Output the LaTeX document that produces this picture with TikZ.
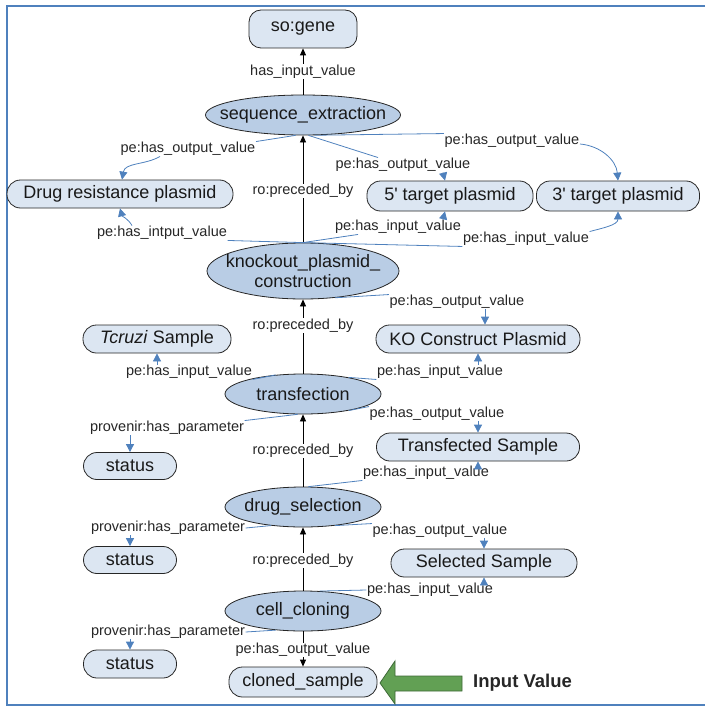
\documentclass[tikz,border=0pt]{standalone}
\usepackage{fontspec}
\setmainfont{Liberation Sans}
\usetikzlibrary{shapes.geometric,arrows.meta}

\definecolor{edgeblue}{RGB}{79,129,189}
\definecolor{framebl}{RGB}{79,129,189}
\definecolor{procfill}{RGB}{185,205,229}
\definecolor{artfill}{RGB}{220,230,242}
\definecolor{arrowgreen}{RGB}{98,160,84}
\definecolor{arrowdark}{RGB}{62,105,55}

\newcommand\nodefont{\fontsize{18}{20}\selectfont}
\newcommand\labfont{\fontsize{14.5}{16}\selectfont}

\tikzset{
  proc/.style={ellipse, draw=black!85, line width=0.8pt, fill=procfill, inner sep=0pt},
  proctext/.style={font=\nodefont, align=center, text=black!90, inner sep=0pt},
  art/.style={rounded corners=13.5pt, draw=black!85, line width=0.8pt, fill=artfill,
              inner sep=0pt, font=\nodefont, text=black!90},
  lab/.style={inner sep=0.5pt, font=\labfont, text=black!85},
  bline/.style={draw=edgeblue, line width=0.8pt},
  barrow/.style={bline, -{Triangle[length=8pt,width=8pt]}},
  karrow/.style={draw=black, line width=0.8pt, -{Triangle[length=7pt,width=6pt]}},
}

\begin{document}
\begin{tikzpicture}[x=1pt,y=1pt]
\useasboundingbox (0,0) rectangle (705,-706);

% frame
\draw[framebl, line width=2pt] (705,-6.5) -- (6.5,-6.5) -- (6.5,-704.5) -- (705,-704.5);

% process nodes
\node[proc, minimum width=195pt, minimum height=40pt,
      label={[proctext]center:sequence\_extraction}] (seq) at (303,-115) {};
\node[proc, minimum width=192pt, minimum height=56pt,
      label={[proctext]center:knockout\_plasmid\_\\construction}] (ko) at (303,-271) {};
\node[proc, minimum width=156pt, minimum height=40pt,
      label={[proctext]center:transfection}] (trans) at (303,-394) {};
\node[proc, minimum width=156pt, minimum height=40pt,
      label={[proctext]center:drug\_selection}] (drug) at (303,-507) {};
\node[proc, minimum width=156pt, minimum height=40pt,
      label={[proctext]center:cell\_cloning}] (cell) at (303,-611) {};

% value nodes
\node[art, rounded corners=12pt, minimum width=108pt, minimum height=38pt] (gene) at (303,-29) {so:gene};
\node[art, minimum width=226pt, minimum height=28pt] (drp) at (120,-194) {Drug resistance plasmid};
\node[art, minimum width=166pt, minimum height=30pt] (tfive) at (450,-196) {5\textquotesingle\ target plasmid};
\node[art, minimum width=163pt, minimum height=30pt] (tthree) at (618,-196) {3\textquotesingle\ target plasmid};
\node[art, minimum width=148pt, minimum height=28pt] (tcr) at (157,-339) {\textit{Tcruzi} Sample};
\node[art, minimum width=204pt, minimum height=28pt] (kop) at (478,-339) {KO Construct Plasmid};
\node[art, minimum width=93pt, minimum height=27pt] (st1) at (130,-466) {status};
\node[art, minimum width=203pt, minimum height=28pt] (tsm) at (478,-447) {Transfected Sample};
\node[art, minimum width=93pt, minimum height=27pt] (st2) at (130,-560) {status};
\node[art, minimum width=186pt, minimum height=28pt] (ssm) at (484,-563) {Selected Sample};
\node[art, minimum width=93pt, minimum height=28pt] (st3) at (130,-664) {status};
\node[art, minimum width=148pt, minimum height=30pt] (clon) at (303,-682) {cloned\_sample};

% edge labels
\node[lab] (L1) at (188,-149) {pe:has\_output\_value};
\node[lab] (L2) at (403,-165) {pe:has\_output\_value};
\node[lab] (L3) at (512,-141) {pe:has\_output\_value};
\node[lab] (L4) at (162,-233) {pe:has\_intput\_value};
\node[lab] (L5) at (398,-227) {pe:has\_input\_value};
\node[lab] (L6) at (526,-239) {pe:has\_input\_value};
\node[lab] (L7) at (457,-302) {pe:has\_output\_value};
\node[lab] (L8) at (189,-372) {pe:has\_input\_value};
\node[lab] (L9) at (440,-372) {pe:has\_input\_value};
\node[lab] (L10) at (437,-414) {pe:has\_output\_value};
\node[lab] (L11) at (167,-428) {provenir:has\_parameter};
\node[lab] (L12) at (426,-473) {pe:has\_input\_value};
\node[lab] (L13) at (168,-528) {provenir:has\_parameter};
\node[lab] (L14) at (440,-531) {pe:has\_output\_value};
\node[lab] (L15) at (430,-590) {pe:has\_input\_value};
\node[lab] (L16) at (168,-632) {provenir:has\_parameter};

% black connectors along the main chain
\draw[karrow] (seq) -- node[lab, fill=white] {has\_input\_value} (gene);
\draw[karrow] (ko) -- node[lab, fill=white, pos=0.48] {ro:preceded\_by} (seq);
\draw[karrow] (trans) -- node[lab, fill=white, pos=0.65] {ro:preceded\_by} (ko);
\draw[karrow] (drug) -- node[lab, fill=white, pos=0.49] {ro:preceded\_by} (trans);
\draw[karrow] (cell) -- node[lab, fill=white, pos=0.48] {ro:preceded\_by} (drug);
\draw[karrow] (cell) -- node[lab, fill=white, pos=0.53] {pe:has\_output\_value} (clon);

% sequence_extraction outputs
\draw[bline] (seq.250) -- (L1.north east);
\draw[barrow] ([xshift=-28pt]L1.south) to[out=210,in=80] ([xshift=2pt]drp.north);
\draw[bline] (seq.285) -- ([xshift=-25pt]L2.north);
\draw[barrow] ([xshift=40pt]L2.south) -- ([xshift=-5pt]tfive.north);
\draw[bline] (seq.300) -- (L3.north west);
\draw[barrow] ([yshift=-3pt]L3.east) to[out=-5,in=95] (tthree.north);

% knockout_plasmid_construction inputs and output
\draw[bline] (ko.north) -- (L4.south east);
\draw[barrow] ([xshift=-30pt]L4.north) to[out=120,in=-75] (drp.south);
\draw[bline] (ko.north) -- ([xshift=-40pt]L5.south);
\draw[barrow] ([xshift=45pt]L5.north) -- ([xshift=-5pt]tfive.south);
\draw[bline] (ko.north) -- (L6.south west);
\draw[barrow] (L6.north east) to[out=15,in=-90] (tthree.south);
\draw[bline] (ko.320) -- (L7.north west);
\draw[barrow] ([xshift=28pt]L7.south) -- ([xshift=7pt]kop.north);

% transfection
\draw[bline] (trans.145) -- (L8.south east);
\draw[barrow] ([xshift=-32pt]L8.north) -- (tcr.south);
\draw[bline] (trans.20) -- (L9.south west);
\draw[barrow] ([xshift=38pt]L9.north) -- (kop.south);
\draw[bline] (trans.340) -- (L10.north west);
\draw[barrow] ([xshift=41pt]L10.south) -- (tsm.north);
\draw[bline] (trans.255) -- (L11.north east);
\draw[barrow] ([xshift=-37pt]L11.south) -- (st1.north);

% drug_selection
\draw[bline] (drug.75) -- (L12.south west);
\draw[barrow] ([xshift=52pt]L12.north) -- (tsm.south);
\draw[bline] (drug.210) -- (L13.east);
\draw[barrow] ([xshift=-38pt]L13.south) -- (st2.north);
\draw[bline] (drug.330) -- (L14.north west);
\draw[barrow] ([xshift=44pt]L14.south) -- (ssm.north);

% cell_cloning
\draw[bline] (cell.50) -- (L15.west);
\draw[barrow] ([xshift=54pt]L15.north) -- (ssm.south);
\draw[bline] (cell.215) -- (L16.east);
\draw[barrow] ([xshift=-38pt]L16.south) -- (st3.north);

% pointer to the input value
\draw[fill=arrowgreen, draw=arrowdark, line width=0.8pt]
  (380,-683) -- (395,-661) -- (395,-676) -- (462,-676) -- (462,-691) -- (395,-691) -- (395,-704) -- cycle;
\node[font=\bfseries\fontsize{18.5}{20}\selectfont, anchor=west, inner sep=0pt, text=black!85] (inval) at (473,-683) {Input Value};
\end{tikzpicture}
\end{document}
